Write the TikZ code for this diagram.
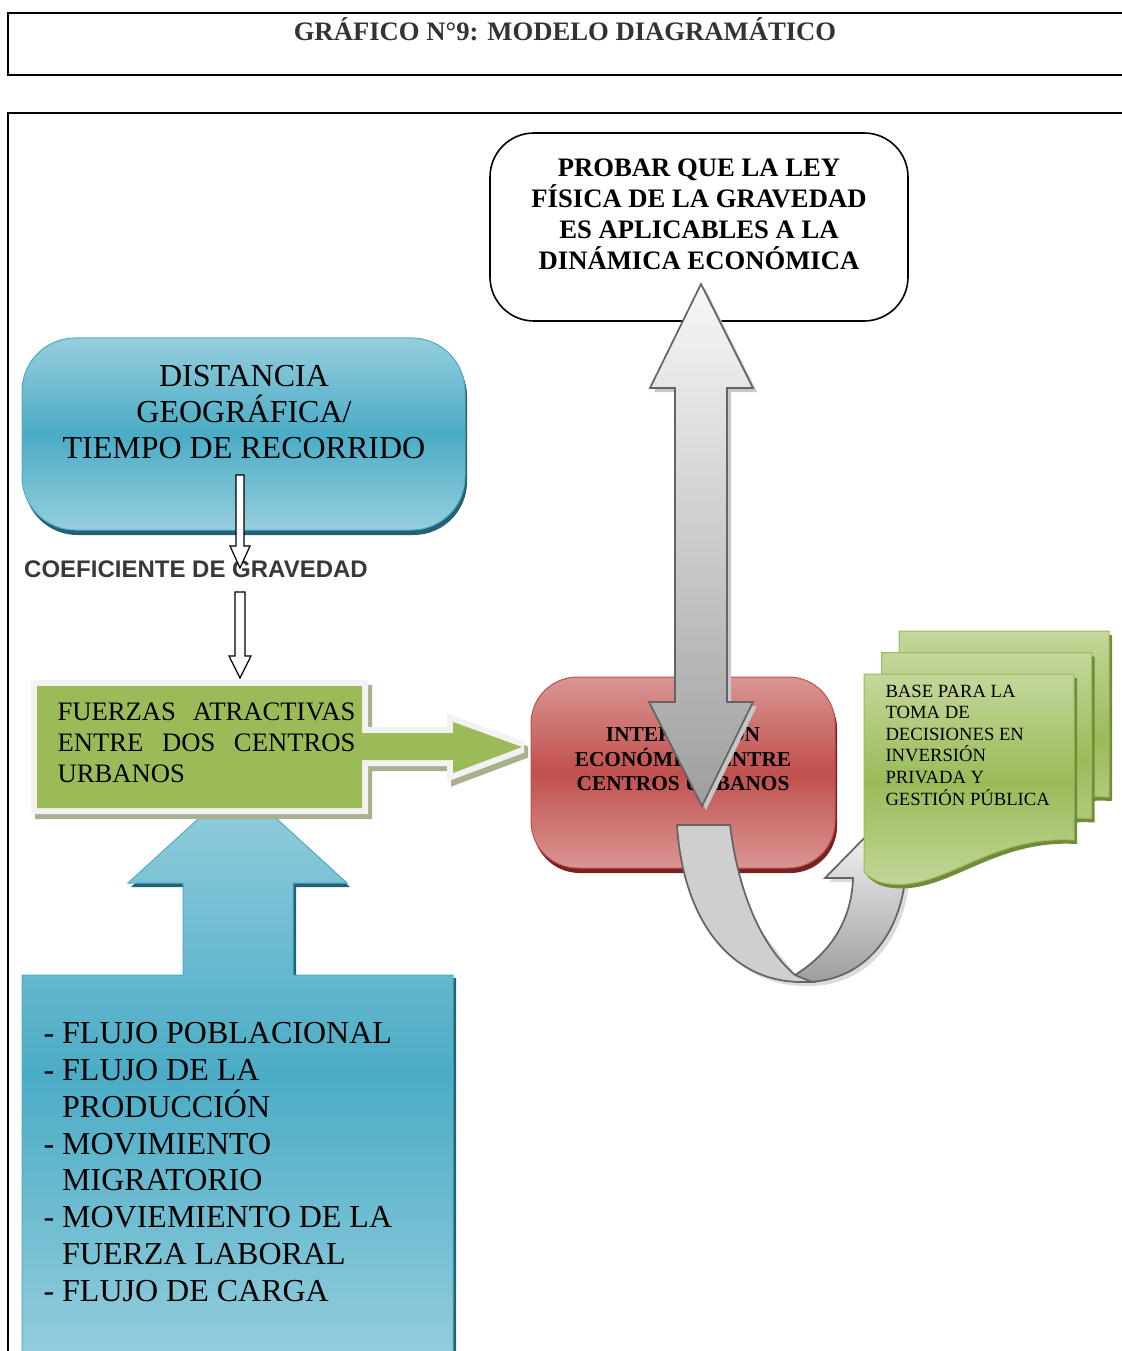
\documentclass[tikz,border=0pt]{standalone}
\usepackage{fontspec}
\setmainfont{Liberation Serif}
\setsansfont{Liberation Sans}

\definecolor{cBlue}{RGB}{75,172,198}
\definecolor{cBlueLight}{RGB}{150,206,221}
\definecolor{cBlueDark}{RGB}{38,96,115}
\definecolor{cGreen}{RGB}{155,187,89}
\definecolor{cGreenLight}{RGB}{196,215,155}
\definecolor{cGreenDark}{RGB}{112,140,58}
\definecolor{cRed}{RGB}{192,80,77}
\definecolor{cRedLight}{RGB}{218,150,148}
\definecolor{cRedDark}{RGB}{118,36,34}
\definecolor{cGrayLine}{RGB}{100,100,100}
\definecolor{cFrame}{RGB}{242,242,242}
\definecolor{cShadowGreen}{RGB}{168,176,142}

\tikzset{every picture/.style={line width=0.75pt}}
\tikzset{
	blue shade/.style={top color=cBlueLight, bottom color=cBlueLight, middle color=cBlue},
	red shade/.style={top color=cRedLight, bottom color=cRedLight, middle color=cRed},
	green shade/.style={top color=cGreenLight, bottom color=cGreenLight, middle color=cGreen},
	gray shade/.style={top color=white!97!black, bottom color=black!38},
	hollow arrow/.style={draw=black, fill=white, line width=0.9},
	gray arrow/.style={draw=cGrayLine, line width=1.3, line join=miter},
	white frame/.style={draw=#1, line width=9, line join=miter, miter limit=2}}

\newcommand{\docpath}{(864,674) -- (1074,674) -- (1074,840) .. controls (990,835) and (945,890) .. (890,884) .. controls (878,883) and (870,878) .. (864,872) -- cycle}
\newcommand{\fuerzaspath}{(37,686) -- (362,686) -- (362,733) -- (453,733) -- (453,722) -- (522,747) -- (453,773) -- (453,760) -- (362,760) -- (362,808) -- (37,808) -- cycle}

\begin{document}
\begin{tikzpicture}[x=0.75pt,y=0.75pt,yscale=-1,xscale=1]
	\useasboundingbox (0,0) rectangle (1121,1351);

	%Shape: Title frame
	\draw [line width=1.5]  (8,13) rectangle (1135,75) ;
	%Shape: Main frame
	\draw [line width=1.5]  (1135,113) -- (8,113) -- (8,1365) ;

	%Shape: Rounded Rect [objetivo]
	\draw [line width=1.2, rounded corners=33]  (490,133) rectangle (908,321) ;

	%Shape: Rounded Rect [distancia] shadow
	\fill [cBlueDark, rounded corners=40]  (24,343) rectangle (467,535) ;
	%Shape: Rounded Rect [distancia]
	\draw [draw=cBlue, blue shade, rounded corners=40]  (22,338) rectangle (465,530) ;

	%Shape: Up Arrow Callout shadow
	\fill [cBlueDark]  (25,1365) -- (25,978) -- (186,978) -- (186,887) -- (131,887) -- (240.5,787) -- (350,887) -- (296,887) -- (296,978) -- (456,978) -- (456,1365) -- cycle ;
	%Shape: Up Arrow Callout
	\draw [draw=cBlue, blue shade]  (22,1365) -- (22,975) -- (183,975) -- (183,883) -- (128,883) -- (237.5,783) -- (347,883) -- (293,883) -- (293,975) -- (453,975) -- (453,1365) -- cycle ;

	%Shape: Box with Right Arrow shadow
	\path [fill=cShadowGreen, white frame=cShadowGreen, shift={(4,5)}] \fuerzaspath ;
	%Shape: Box with Right Arrow
	\path [fill=cGreen, preaction={white frame=cFrame}] \fuerzaspath ;

	%Shape: Rounded Rect [interaccion] shadow
	\fill [cRedDark, rounded corners=35]  (533,682) rectangle (837,873) ;
	%Shape: Rounded Rect [interaccion]
	\draw [draw=cRed, red shade, rounded corners=35]  (531,677) rectangle (835,868) ;

	%Shape: Curved Arrow shadow
	\fill [black!14]  (799,979) .. controls (839,954) and (856,919) .. (857,882) -- (829,882) -- (884,826) -- (929,866) -- (909,884) .. controls (902,944) and (864,986) .. (809,986) -- (804,986) .. controls (734,985) and (687,924) .. (681,829) -- cycle ;
	%Shape: Curved Arrow back
	\draw [gray arrow, gray shade]  (795,975) .. controls (835,950) and (852,915) .. (853,878) -- (825,878) -- (880,822) -- (925,862) -- (905,880) .. controls (898,940) and (860,982) .. (805,982) -- cycle ;
	%Shape: Curved Arrow front
	\draw [gray arrow, fill=black!19]  (677,825) -- (730,825) .. controls (738,890) and (760,945) .. (795,975) -- (812,982) -- (800,982) .. controls (730,981) and (683,920) .. (677,825) -- cycle ;

	%Shape: Multidocument
	\begin{scope}[shift={(35,-43)}]
	\fill [cGreenDark, shift={(3,4)}] \docpath ;
	\draw [draw=cGreen, green shade] \docpath ;
	\end{scope}
	\begin{scope}[shift={(17.5,-21.5)}]
	\fill [cGreenDark, shift={(3,4)}] \docpath ;
	\draw [draw=cGreen, green shade] \docpath ;
	\end{scope}
	\fill [cGreenDark, shift={(3,4)}] \docpath ;
	\draw [draw=cGreen, green shade] \docpath ;

	% Text Node
	\draw (565,29) node [text=black!80, font=\fontsize{20}{24}\selectfont\bfseries]  (titulo) {GRÁFICO N°9: MODELO DIAGRAMÁTICO};
	% Text Node
	\draw (699,214) node [align=center, font=\fontsize{20}{23.3}\selectfont\bfseries]  (objetivo) {PROBAR QUE LA LEY\\ FÍSICA DE LA GRAVEDAD\\ ES APLICABLES A LA\\ DINÁMICA ECONÓMICA};
	% Text Node
	\draw (244,412) node [align=center, font=\fontsize{24}{27}\selectfont]  (distancia) {DISTANCIA\\ GEOGRÁFICA/\\ TIEMPO DE RECORRIDO};
	% Text Node
	\draw (196,569) node [text=black!78, font=\fontsize{18}{21}\selectfont\sffamily\bfseries]  (coeficiente) {COEFICIENTE DE GRAVEDAD};
	% Text Node
	\draw (57,743) node [anchor=west, inner sep=0, font=\fontsize{20}{23.3}\selectfont]  (fuerzas) {\parbox{223.5pt}{\makebox[223.5pt][s]{FUERZAS ATRACTIVAS}\\ \makebox[223.5pt][s]{ENTRE DOS CENTROS}\\ URBANOS}};
	% Text Node
	\draw (683,757) node [align=center, font=\fontsize{16}{18.4}\selectfont\bfseries]  (interaccion) {INTERACCIÓN\\ ECONÓMICA ENTRE\\ CENTROS URBANOS};
	% Text Node
	\draw (885,745) node [anchor=west, align=left, inner sep=0, font=\fontsize{14}{16.2}\selectfont]  (base) {BASE PARA LA\\ TOMA DE\\ DECISIONES EN\\ INVERSIÓN\\ PRIVADA Y\\ GESTIÓN PÚBLICA};
	% Text Node
	\draw (43,1162) node [anchor=west, align=left, inner sep=0, font=\fontsize{24}{27.6}\selectfont]  (flujos) {- FLUJO POBLACIONAL\\ - FLUJO DE LA\\ \phantom{- }PRODUCCIÓN\\ - MOVIMIENTO\\ \phantom{- }MIGRATORIO\\ - MOVIEMIENTO DE LA\\ \phantom{- }FUERZA LABORAL\\ - FLUJO DE CARGA};

	%Shape: Down Arrow
	\draw [hollow arrow]  (236,475) -- (244,475) -- (244,546) -- (250,546) -- (240,568) -- (230,546) -- (236,546) -- cycle ;
	%Shape: Down Arrow
	\draw [hollow arrow]  (235,592) -- (245,592) -- (245,656) -- (251,656) -- (240,678) -- (229,656) -- (235,656) -- cycle ;

	%Shape: Up Down Arrow shadow
	\fill [black!22]  (705,288) -- (757,392) -- (731,392) -- (731,706) -- (757,706) -- (706,810) -- (653,706) -- (679,706) -- (679,392) -- (654,392) -- cycle ;
	%Shape: Up Down Arrow
	\draw [gray arrow, gray shade]  (701,284) -- (753,388) -- (727,388) -- (727,702) -- (753,702) -- (702,806) -- (649,702) -- (675,702) -- (675,388) -- (650,388) -- cycle ;

\end{tikzpicture}
\end{document}
